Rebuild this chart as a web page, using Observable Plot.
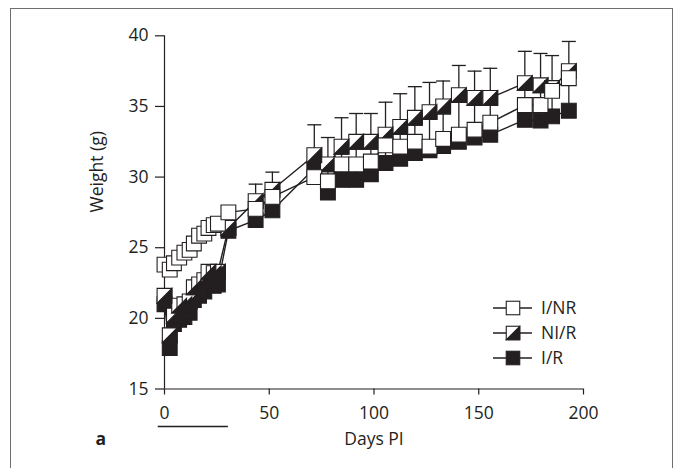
<!DOCTYPE html>
<html>
<head>
<meta charset="utf-8">
<script src="https://cdn.jsdelivr.net/npm/d3@7"></script>
<script src="https://cdn.jsdelivr.net/npm/@observablehq/plot@0.6"></script>
<style>
  html, body { margin: 0; padding: 0; background: #fff; }
  #wrap { position: relative; width: 674px; height: 468px; overflow: hidden; }
  #border { position: absolute; left: 10px; top: 8px; width: 661px; height: 480px;
            border-top: 1.5px solid #6e6e6e; border-left: 1.5px solid #6e6e6e; border-right: 1.5px solid #6e6e6e; }
  #chart { position: absolute; left: 0; top: 0; }
</style>
</head>
<body>
<div id="wrap"><div id="border"></div><div id="chart"></div></div>
<script>
// ---- data ----
const days = [0, 2.5, 4.5, 7, 9.5, 12, 14, 16.5, 19, 21, 23.5, 25.5, 30.5,
  43.5, 51.5, 71.5, 78, 84.5, 91.5, 98.5, 105.5, 112.5, 119.5, 126.5, 133,
  140.5, 148, 155.5, 172, 179.5, 185, 193];

const weightINR = [23.8, 23.45, 23.9, 24.3, 24.65, 24.85, 25.3, 25.85, 26.0, 26.4, 26.6, 26.7, 27.5,
  27.75, 28.6, 30.0, 29.7, 30.9, 30.9, 31.1, 32.25, 32.15, 32.5, 32.15, 32.7,
  33.0, 33.35, 33.85, 35.1, 35.1, 36.1, 37.0];
const weightNIR = [21.6, 18.8, 20.2, 20.9, 21.0, 21.2, 22.2, 22.4, 22.7, 23.3, 23.2, 23.3, 26.4,
  28.3, 29.1, 31.55, 30.9, 32.15, 32.5, 32.5, 33.0, 33.55, 34.2, 34.6, 35.0,
  35.8, 35.6, 35.6, 36.65, 36.5, 36.3, 37.5];
const weightIR = [21.0, 17.9, 19.6, 19.9, 20.1, 20.4, 21.3, 21.6, 21.9, 22.4, 22.3, 22.4, 26.2,
  26.95, 27.65, 30.6, 28.9, 29.8, 29.8, 30.2, 31.0, 31.3, 31.7, 31.9, 32.2,
  32.5, 32.8, 33.0, 34.05, 34.0, 34.3, 34.7];

const errINR = [0.3, 0.3, 0.3, 0.3, 0.3, 0.3, 0.3, 0.3, 0.3, 0.3, 0.3, 0.3, 0.3,
  0.5, 0.5, 1.3, 1.2, 1.2, 1.5, 1.4, 0.8, 1.4, 1.7, 2.4, 2.3,
  2.8, 2.2, 1.7, 1.5, 1.4, 0.5, 0.5];
const errNIR = [0.35, 0.35, 0.35, 0.35, 0.35, 0.35, 0.35, 0.35, 0.35, 0.35, 0.35, 0.35, 0.35,
  1.2, 1.25, 2.15, 1.9, 2.05, 2.0, 2.0, 2.3, 2.35, 2.2, 2.1, 1.8,
  2.1, 1.9, 2.1, 2.25, 2.25, 2.3, 2.1];
const errIR = [0.3, 0.3, 0.3, 0.3, 0.3, 0.3, 0.3, 0.3, 0.3, 0.3, 0.3, 0.3, 0.3,
  0.7, 0.9, 0.5, 0.8, 1.1, 1.1, 0.9, 1.2, 0.8, 0.8, 0.3, 0.5,
  0.5, 0.5, 0.8, 1.0, 1.1, 1.8, 2.3];

const seriesNames = ["I/NR", "NI/R", "I/R"];
const xTicks = [0, 50, 100, 150, 200];
const yTicks = [15, 20, 25, 30, 35, 40];
const treatmentPeriod = [{start: -3, end: 30.5}];

// ---- build tables ----
const mk = (name, w, e) => days.map((d, i) => ({series: name, day: d, w: w[i], err: e[i]}));
const rowsINR = mk("I/NR", weightINR, errINR);
const rowsNIR = mk("NI/R", weightNIR, errNIR);
const rowsIR = mk("I/R", weightIR, errIR);
const allRows = [...rowsIR, ...rowsNIR, ...rowsINR];

const ink = "#231f20";
const FS = 17.5;
// custom symbols: half-width equals r
const sq = {draw(c, size) { const s = Math.sqrt(size / Math.PI); c.moveTo(-s, -s); c.lineTo(s, -s); c.lineTo(s, s); c.lineTo(-s, s); c.closePath(); }};
const tri = {draw(c, size) { const s = Math.sqrt(size / Math.PI); c.moveTo(s, -s); c.lineTo(s, s); c.lineTo(-s, s); c.closePath(); }};
const cap = {draw(c, size) { const s = Math.sqrt(size / Math.PI); c.moveTo(-s, 0); c.lineTo(s, 0); }};
const R = 7.4;

const plot = Plot.plot({
  width: 674,
  height: 468,
  marginLeft: 164,
  marginRight: 91,
  marginTop: 35.3,
  marginBottom: 79.5,
  style: {fontFamily: "'Open Sans', sans-serif", fontSize: FS + "px", color: ink, background: "transparent"},
  x: {domain: [0, 200]},
  y: {domain: [15, 40]},
  marks: [
    Plot.axisX({ticks: xTicks, tickSize: 6, tickPadding: 12, label: null, stroke: ink, fill: ink, strokeWidth: 1.2, fontSize: FS}),
    Plot.axisY({ticks: yTicks, tickSize: 9, tickPadding: 7, label: null, stroke: ink, fill: ink, strokeWidth: 1.2, fontSize: FS}),
    Plot.ruleX([0], {stroke: ink, strokeWidth: 1.2}),
    Plot.ruleY([15], {stroke: ink, strokeWidth: 1.2}),
    // treatment bar under the axis
    Plot.ruleY(treatmentPeriod, {y: () => 15, x1: "start", x2: "end", dy: 37.5, stroke: ink, strokeWidth: 1.3}),
    // error bars
    Plot.ruleX(allRows, {x: "day", y1: "w", y2: d => d.w + d.err, stroke: ink, strokeWidth: 1.3}),
    Plot.dot(allRows, {x: "day", y: d => d.w + d.err, symbol: cap, r: 7, stroke: ink, fill: "none", strokeWidth: 1.3}),
    // connecting lines
    Plot.line(allRows, {x: "day", y: "w", z: "series", stroke: ink, strokeWidth: 1.4}),
    // markers
    Plot.dot(rowsIR, {x: "day", y: "w", symbol: sq, r: R, fill: ink, stroke: ink, strokeWidth: 1.1}),
    Plot.dot(rowsNIR, {x: "day", y: "w", symbol: sq, r: R, fill: "#fff", stroke: ink, strokeWidth: 1.1}),
    Plot.dot(rowsNIR, {x: "day", y: "w", symbol: tri, r: R, fill: ink, stroke: ink, strokeWidth: 1.1}),
    Plot.dot(rowsINR, {x: "day", y: "w", symbol: sq, r: R, fill: "#fff", stroke: ink, strokeWidth: 1.1}),
    // labels
    Plot.text(["Days PI"], {text: d => d, frameAnchor: "bottom", dy: 50, lineAnchor: "middle", fill: ink, fontSize: FS}),
    Plot.text(["Weight (g)"], {text: d => d, frameAnchor: "left", dx: -67, rotate: -90, lineAnchor: "middle", fill: ink, fontSize: FS}),
    Plot.text(["a"], {text: d => d, frameAnchor: "bottom-left", dx: -69, dy: 50, lineAnchor: "middle", fontWeight: "bold", fill: ink, fontSize: FS})
  ]
});

// legend inside the plot area
const svg = d3.select(plot);
const lg = svg.append("g").attr("class", "legend").attr("text-anchor", "start");
const legendY = [308, 333, 358];
seriesNames.forEach((name, i) => {
  const g = lg.append("g").attr("transform", `translate(513,${legendY[i]})`);
  g.append("line").attr("x1", -20).attr("x2", 19).attr("stroke", ink).attr("stroke-width", 1.4);
  const s = 6.75;
  const filled = name === "I/R";
  g.append("rect").attr("x", -s).attr("y", -s).attr("width", 2 * s).attr("height", 2 * s)
    .attr("fill", filled ? ink : "#fff").attr("stroke", ink).attr("stroke-width", 1.1);
  if (name === "NI/R") {
    g.append("path").attr("d", `M${s},${-s}L${s},${s}L${-s},${s}Z`).attr("fill", ink).attr("stroke", ink).attr("stroke-width", 1.1);
  }
  g.append("text").attr("x", 28).attr("dy", "0.35em").attr("fill", ink)
    .attr("text-anchor", "start").attr("font-size", FS).text(name);
});

document.getElementById("chart").appendChild(plot);
</script>
</body>
</html>
